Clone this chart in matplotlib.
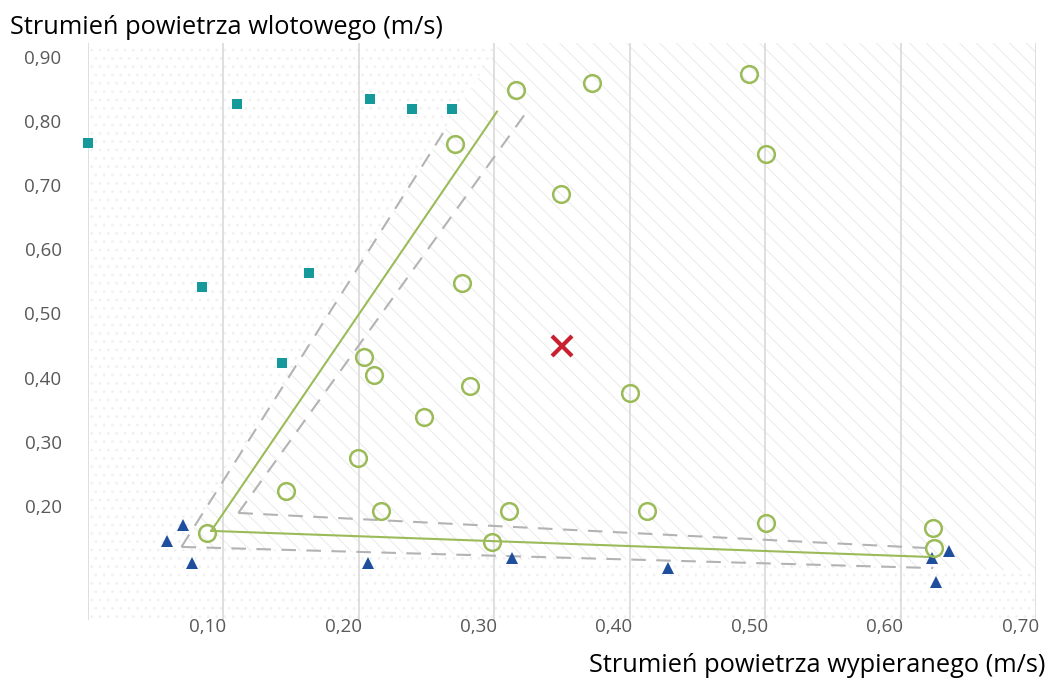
import matplotlib
matplotlib.use("Agg")
import matplotlib.pyplot as plt
from matplotlib.patches import Polygon, Rectangle

plt.rcParams['font.family'] = ['Open Sans', 'DejaVu Sans']
plt.rcParams['hatch.linewidth'] = 0.8

# dane (m/s)
kw_x = [0.0, 0.110, 0.208, 0.239, 0.269, 0.084, 0.163, 0.143]
kw_y = [0.744, 0.805, 0.813, 0.797, 0.797, 0.520, 0.541, 0.401]

tr_x = [0.070, 0.058, 0.077, 0.207, 0.313, 0.428, 0.623, 0.636, 0.626]
tr_y = [0.148, 0.123, 0.089, 0.089, 0.097, 0.081, 0.097, 0.108, 0.059]

ko_x = [0.316, 0.372, 0.488, 0.271, 0.501, 0.349, 0.276, 0.204, 0.211, 0.282, 0.248,
        0.199, 0.146, 0.216, 0.311, 0.400, 0.413, 0.501, 0.624, 0.625, 0.088, 0.298]
ko_y = [0.827, 0.838, 0.852, 0.743, 0.727, 0.665, 0.526, 0.410, 0.382, 0.365, 0.317,
        0.253, 0.201, 0.170, 0.170, 0.354, 0.170, 0.151, 0.144, 0.112, 0.136, 0.122]

srodek_x, srodek_y = 0.350, 0.427

# linie trendu (ciagle) i przedzialy (przerywane)
lin1_x, lin1_y = [0.091, 0.302], [0.139, 0.793]
lin2_x, lin2_y = [0.091, 0.6255], [0.139, 0.098]
przer_lewa_x, przer_lewa_y = [0.069, 0.265], [0.114, 0.769]
przer_prawa_x, przer_prawa_y = [0.111, 0.324], [0.167, 0.793]
przer_gora_x, przer_gora_y = [0.111, 0.622], [0.167, 0.112]
przer_dol_x, przer_dol_y = [0.069, 0.624], [0.114, 0.081]

# obszar zakreskowany
obszar = [(0.069, 0.114), (0.304, 0.9), (0.7, 0.9), (0.7, 0.0765)]

xticks = [0.1, 0.2, 0.3, 0.4, 0.5, 0.6, 0.7]
yticks = [0.2, 0.3, 0.4, 0.5, 0.6, 0.7, 0.8, 0.9]

fig = plt.figure(figsize=(10.59, 6.82), dpi=100)
ax = fig.add_axes([88/1059, 1-620/682, 948/1059, 577/682])
ax.set_xlim(0, 0.7)
ax.set_ylim(0, 0.9)

# tlo: kropki + skosne kreskowanie
ax.add_patch(Rectangle((0, 0), 0.7, 0.9, facecolor='white', edgecolor='#f1f1f1',
                       hatch='..', linewidth=0, zorder=0))
ax.add_patch(Polygon(obszar, closed=True, facecolor='white', edgecolor='#ececec',
                     hatch='\\\\', linewidth=0, zorder=0.5))

for v in [0.0] + xticks:
    ax.axvline(v, color='#d9d9d9', linewidth=1.2, zorder=1)

for px, py in [(przer_lewa_x, przer_lewa_y), (przer_prawa_x, przer_prawa_y),
               (przer_gora_x, przer_gora_y), (przer_dol_x, przer_dol_y)]:
    ax.plot(px, py, color='#b3b3b3', lw=1.5, dashes=(7, 5), zorder=2)
ax.plot(lin1_x, lin1_y, color='#9bbb59', lw=1.5, zorder=3)
ax.plot(lin2_x, lin2_y, color='#9bbb59', lw=1.5, zorder=3)

ax.plot(kw_x, kw_y, 's', color='#16999b', ms=7, mew=0, zorder=4, clip_on=False)
ax.plot(tr_x, tr_y, '^', color='#1f4e9c', ms=9, mew=0, zorder=4)
ax.plot(ko_x, ko_y, 'o', mfc='none', mec='#9bbb59', ms=12, mew=1.8, zorder=4)
ax.plot(srodek_x, srodek_y, 'x', color='#c8202f', ms=15, mew=3, zorder=5)

ax.set_xticks([])
ax.set_yticks([])
for s in ax.spines.values():
    s.set_visible(False)

for v in xticks:
    ax.annotate(f"{v:.2f}".replace('.', ','), xy=(v, 0), xycoords=('data', 'axes fraction'),
                xytext=(2, -5), textcoords='offset points', ha='right', va='center',
                fontsize=13.5, color='#595959')
for v in yticks:
    ax.annotate(f"{v:.2f}".replace('.', ','), xy=(0, v), xycoords=('axes fraction', 'data'),
                xytext=(-19, -11.5), textcoords='offset points', ha='right', va='center',
                fontsize=13.5, color='#595959')

fig.text(10/1059, 1-27/682, 'Strumień powietrza wlotowego (m/s)', ha='left', va='center',
         fontsize=18.3, color='black')
fig.text(1045/1059, 1-665/682, 'Strumień powietrza wypieranego (m/s)', ha='right', va='center',
         fontsize=18.3, color='black')

fig.savefig('out.png', dpi=100)
